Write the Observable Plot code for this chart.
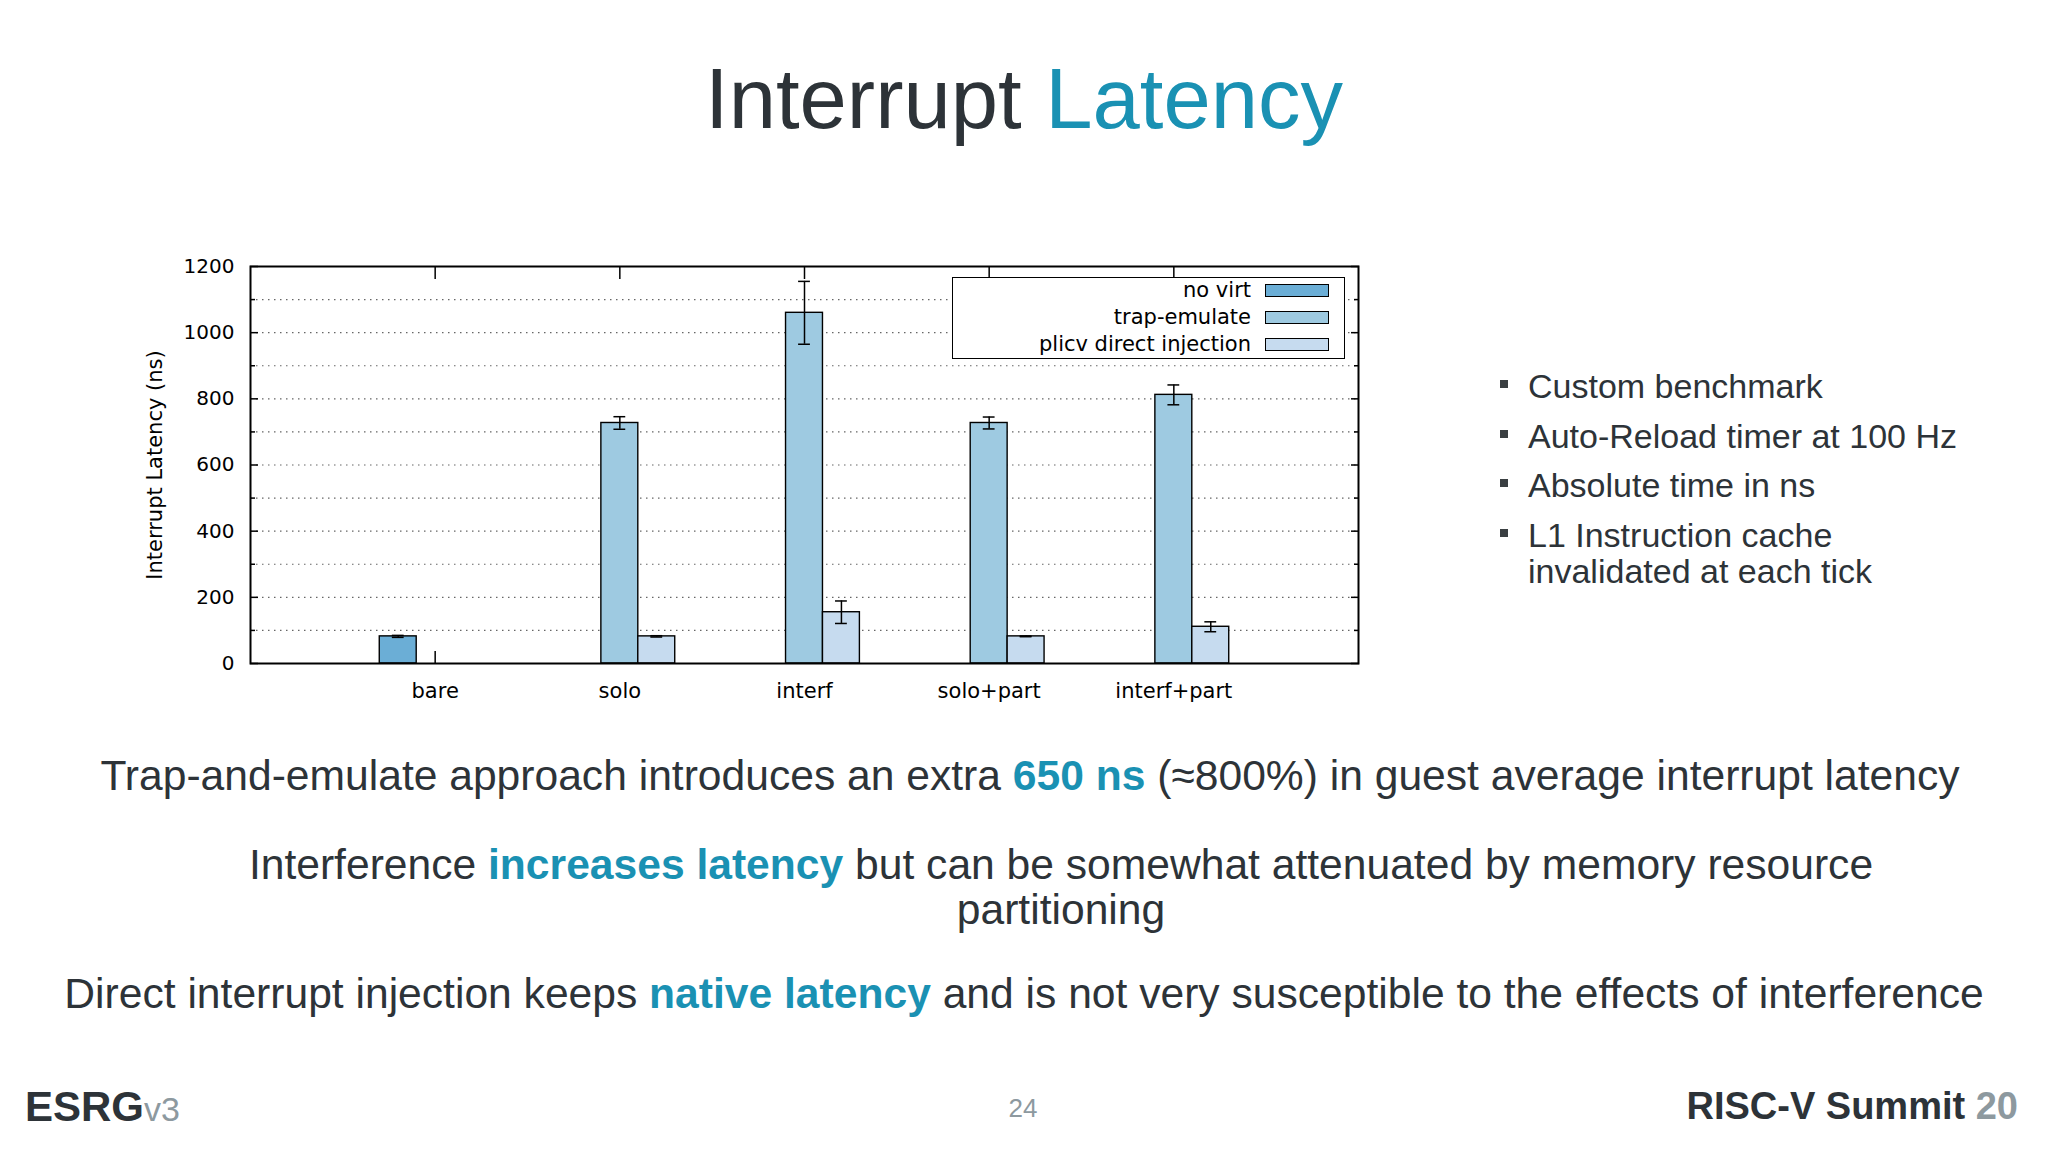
<!DOCTYPE html>
<html><head><meta charset="utf-8">
<script src="https://cdn.jsdelivr.net/npm/d3@7"></script>
<script src="https://cdn.jsdelivr.net/npm/@observablehq/plot@0.6"></script>
<style>
html,body{margin:0;padding:0;background:#fff;}
#slide{position:relative;width:2048px;height:1152px;overflow:hidden;font-family:"Liberation Sans",Arial,sans-serif;color:#2d3338;background:#fff;}
.abs{position:absolute;white-space:nowrap;}
.hl{color:#1a91b3;}
.b{font-weight:bold;}
#title{left:0;width:2048px;text-align:center;top:57px;font-size:85px;line-height:84px;}
#chart{position:absolute;left:0;top:200px;}
#bullets{position:absolute;left:1500px;top:368px;margin:0;padding:0;list-style:none;font-size:34px;line-height:36px;}
#bullets li{position:relative;padding-left:28px;margin-bottom:13.5px;white-space:nowrap;}
#bullets li::before{content:"";position:absolute;left:0;top:12px;width:8px;height:8px;background:#3a3f42;}
.para{position:absolute;width:2000px;text-align:center;font-size:42.6px;line-height:45px;white-space:nowrap;}
#legend{position:absolute;left:952px;top:277px;width:393px;height:82px;box-sizing:border-box;border:1.5px solid #000;background:#fff;font-family:"DejaVu Sans",sans-serif;font-size:21px;color:#000;}
.lrow{position:absolute;left:0;height:27px;line-height:27px;width:100%;}
.ltext{position:absolute;right:93px;top:0;white-space:nowrap;}
.lsw{position:absolute;left:312px;top:7px;width:64px;height:13px;box-sizing:border-box;border:1.5px solid #000;}
</style></head>
<body>
<div id="slide">
  <div id="title" class="abs">Interrupt <span class="hl">Latency</span></div>
  <div id="chart"></div>
  <div id="legend"></div>
  <ul id="bullets">
    <li>Custom benchmark</li>
    <li>Auto-Reload timer at 100 Hz</li>
    <li>Absolute time in ns</li>
    <li>L1 Instruction cache<br>invalidated at each tick</li>
  </ul>
  <div class="para" style="left:30px;top:753px;">Trap-and-emulate approach introduces an extra <span class="hl b">650 ns</span> (≈800%) in guest average interrupt latency</div>
  <div class="para" style="left:61px;top:842px;">Interference <span class="hl b">increases latency</span> but can be somewhat attenuated by memory resource<br>partitioning</div>
  <div class="para" style="left:24px;top:971px;">Direct interrupt injection keeps <span class="hl b">native latency</span> and is not very susceptible to the effects of interference</div>
  <div class="abs b" style="left:25px;top:1086px;font-size:42px;line-height:42px;color:#2d3338;">ESRG<span style="font-weight:normal;font-size:34px;color:#8d999f;">v3</span></div>
  <div class="abs" style="left:973px;width:100px;text-align:center;top:1095px;font-size:26px;line-height:26px;color:#8d999f;">24</div>
  <div class="abs b" style="right:30px;top:1087px;font-size:38px;line-height:38px;color:#2d3338;">RISC-V Summit <span style="color:#8d999f;">20</span></div>
</div>
<script>
const categories = ["bare", "solo", "interf", "solo+part", "interf+part"];
const series = ["no virt", "trap-emulate", "plicv direct injection"];
const noVirt = [82, null, null, null, null];
const noVirtErr = [3, null, null, null, null];
const trapEmulate = [null, 727, 1060, 727, 812];
const trapEmulateErr = [null, 19, 95, 18, 30];
const plicvDirect = [null, 82, 155, 82, 111];
const plicvDirectErr = [null, 2, 34, 1, 15];
const seriesColors = ["#6baed6", "#9ecae1", "#c6dbef"];
const yLabelTicks = [0, 200, 400, 600, 800, 1000, 1200];
const yMinorTicks = [100, 300, 500, 700, 900, 1100];
const yTitle = "Interrupt Latency (ns)";

const values = [noVirt, trapEmulate, plicvDirect];
const errors = [noVirtErr, trapEmulateErr, plicvDirectErr];
const barW = 0.2;
const rows = [];
series.forEach((s, k) => {
  categories.forEach((c, i) => {
    const v = values[k][i];
    if (v != null) rows.push({cat: c, i, series: s, k, value: v, err: errors[k][i]});
  });
});
const pos = d => d.i + (d.k - 1) * barW;
const cap = barW * 0.16;
const catIdx = categories.map((c, i) => i);
const gridTicks = [...yLabelTicks, ...yMinorTicks].filter(t => t > 0 && t < 1200).sort((a, b) => a - b);

const chart = Plot.plot({
  width: 1400, height: 520,
  marginLeft: 250, marginRight: 42, marginTop: 66, marginBottom: 57,
  style: {fontFamily: "DejaVu Sans, sans-serif", fontSize: "21px", color: "#000", background: "transparent"},
  x: {domain: [-1, categories.length], label: null},
  y: {domain: [0, 1200], label: null},
  color: {domain: series, range: seriesColors},
  marks: [
    Plot.gridY(gridTicks, {stroke: "#666", strokeOpacity: 1, strokeWidth: 1.2, strokeDasharray: "1.5,4.5"}),
    Plot.axisY(yLabelTicks, {anchor: "left", tickSize: -8, strokeWidth: 1.5, tickPadding: 16 + 8, fontSize: 20, tickFormat: d => String(d), label: null}),
    Plot.axisY(yMinorTicks, {anchor: "left", tickSize: -5, strokeWidth: 1.5, tickFormat: () => "", label: null}),
    Plot.axisY(yLabelTicks, {anchor: "right", tickSize: -8, strokeWidth: 1.5, tickFormat: () => "", label: null}),
    Plot.axisY(yMinorTicks, {anchor: "right", tickSize: -5, strokeWidth: 1.5, tickFormat: () => "", label: null}),
    Plot.axisX(catIdx, {anchor: "top", tickSize: -12, strokeWidth: 1.5, tickFormat: () => "", label: null}),
    Plot.axisX(catIdx, {anchor: "bottom", tickSize: -12, strokeWidth: 1.5, tickPadding: 20 + 12, tickFormat: i => categories[i], fontSize: 21, label: null}),
    Plot.rect(rows, {x1: d => pos(d) - barW / 2, x2: d => pos(d) + barW / 2, y1: 0, y2: "value", fill: "series", stroke: "#000", strokeWidth: 1.4}),
    Plot.ruleX(rows, {x: pos, y1: d => d.value - d.err, y2: d => d.value + d.err, stroke: "#000", strokeWidth: 1.5}),
    Plot.ruleY(rows, {y: d => d.value + d.err, x1: d => pos(d) - cap, x2: d => pos(d) + cap, stroke: "#000", strokeWidth: 1.5}),
    Plot.ruleY(rows, {y: d => d.value - d.err, x1: d => pos(d) - cap, x2: d => pos(d) + cap, stroke: "#000", strokeWidth: 1.5}),
    Plot.frame({stroke: "#000", strokeWidth: 2}),
    Plot.text([yTitle], {text: d => d, frameAnchor: "left", textAnchor: "middle", lineAnchor: "middle", rotate: -90, dx: -95, fontSize: 21, fill: "#000"})
  ]
});
document.getElementById("chart").appendChild(chart);

const legend = document.getElementById("legend");
series.forEach((s, k) => {
  const row = document.createElement("div");
  row.className = "lrow";
  row.style.top = (-1 + k * 27) + "px";
  const t = document.createElement("span");
  t.className = "ltext"; t.textContent = s;
  const sw = document.createElement("span");
  sw.className = "lsw"; sw.style.background = seriesColors[k];
  row.appendChild(t); row.appendChild(sw);
  legend.appendChild(row);
});
</script>
</body></html>
